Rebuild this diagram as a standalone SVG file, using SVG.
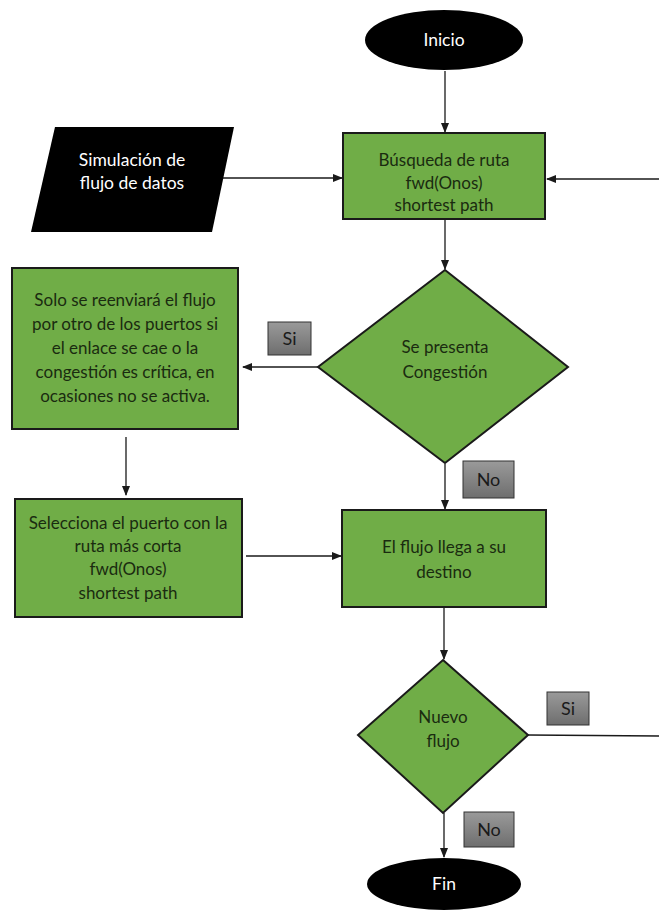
<svg xmlns="http://www.w3.org/2000/svg" width="659" height="914" viewBox="0 0 659 914">
  <style>
    .proc { fill: #70ad47; stroke: #1a1a1a; stroke-width: 2; }
    .term { fill: #000000; }
    .lbl { fill: url(#grayGrad); stroke: #333333; stroke-width: 1; }
    .t { font-family: Lato, "Open Sans", "Liberation Sans", sans-serif; font-size: 17px; fill: #1a2b10; text-anchor: middle; }
    .tw { font-family: Lato, "Open Sans", "Liberation Sans", sans-serif; font-size: 17.5px; fill: #ffffff; text-anchor: middle; }
    .tl { font-family: Lato, "Open Sans", "Liberation Sans", sans-serif; font-size: 18px; fill: #1a1a1a; text-anchor: middle; }
    .edge { stroke: #1a1a1a; stroke-width: 1.3; fill: none; }
    .arrow { marker-end: url(#head); }
  </style>
  <defs>
    <linearGradient id="grayGrad" x1="0" y1="0" x2="0" y2="1">
      <stop offset="0" stop-color="#9a9a9a"/>
      <stop offset="1" stop-color="#6e6e6e"/>
    </linearGradient>
    <marker id="head" markerWidth="10" markerHeight="8" refX="9" refY="4" orient="auto" markerUnits="userSpaceOnUse">
      <path d="M0,0 L10,4 L0,8 Z" fill="#1a1a1a"/>
    </marker>
  </defs>

  <rect width="659" height="914" fill="#ffffff"/>

  <!-- connectors -->
  <g id="connectors">
    <line class="edge arrow" x1="445" y1="71" x2="445" y2="132"/>
    <line class="edge arrow" x1="222" y1="178" x2="342" y2="178"/>
    <line class="edge arrow" x1="659" y1="179" x2="547" y2="179"/>
    <line class="edge arrow" x1="445" y1="220" x2="445" y2="269"/>
    <line class="edge arrow" x1="318" y1="367" x2="243" y2="367"/>
    <line class="edge arrow" x1="445" y1="464" x2="445" y2="509"/>
    <line class="edge arrow" x1="126" y1="437" x2="126" y2="495"/>
    <line class="edge arrow" x1="246" y1="556" x2="341" y2="556"/>
    <line class="edge arrow" x1="444" y1="608" x2="444" y2="659"/>
    <line class="edge" x1="528" y1="735" x2="659" y2="736"/>
    <line class="edge arrow" x1="444" y1="813" x2="444" y2="857"/>
  </g>

  <!-- start -->
  <g id="inicio">
    <ellipse class="term" cx="444" cy="40" rx="79" ry="30"/>
    <text class="tw" x="444" y="46">Inicio</text>
  </g>

  <!-- data input -->
  <g id="simulacion">
    <polygon class="term" points="55,127 234,127 212,232 31,232"/>
    <text class="tw" x="132" y="166">Simulación de</text>
    <text class="tw" x="132" y="189">flujo de datos</text>
  </g>

  <!-- route search -->
  <g id="busqueda">
    <rect class="proc" x="343" y="133" width="202" height="86"/>
    <text class="t" x="444" y="166">Búsqueda de ruta</text>
    <text class="t" x="444" y="189">fwd(Onos)</text>
    <text class="t" x="444" y="211">shortest path</text>
  </g>

  <!-- congestion decision -->
  <g id="congestion">
    <polygon class="proc" points="445,270 568,367 445,463 318,367"/>
    <text class="t" x="445" y="353">Se presenta</text>
    <text class="t" x="445" y="378">Congestión</text>
  </g>

  <g id="si1">
    <rect class="lbl" x="268" y="322" width="43" height="33"/>
    <text class="tl" x="289.5" y="345">Si</text>
  </g>

  <g id="no1">
    <rect class="lbl" x="463" y="461" width="51" height="37"/>
    <text class="tl" x="488.5" y="486">No</text>
  </g>

  <!-- reroute note -->
  <g id="reenvio">
    <rect class="proc" x="12" y="268" width="226" height="161"/>
    <text class="t" x="125" y="306">Solo se reenviará el flujo</text>
    <text class="t" x="125" y="330">por otro de los puertos si</text>
    <text class="t" x="125" y="354">el enlace se cae o la</text>
    <text class="t" x="125" y="378">congestión es crítica, en</text>
    <text class="t" x="125" y="402">ocasiones no se activa.</text>
  </g>

  <!-- port selection -->
  <g id="selecciona">
    <rect class="proc" x="15" y="499" width="227" height="118"/>
    <text class="t" x="128" y="529">Selecciona el puerto con la</text>
    <text class="t" x="128" y="552">ruta más corta</text>
    <text class="t" x="128" y="575">fwd(Onos)</text>
    <text class="t" x="128" y="599">shortest path</text>
  </g>

  <!-- arrival -->
  <g id="destino">
    <rect class="proc" x="342" y="510" width="204" height="97"/>
    <text class="t" x="444" y="553">El flujo llega a su</text>
    <text class="t" x="444" y="578">destino</text>
  </g>

  <!-- new flow decision -->
  <g id="nuevo">
    <polygon class="proc" points="443,660 528,735 443,813 358,735"/>
    <text class="t" x="443" y="723">Nuevo</text>
    <text class="t" x="443" y="747">flujo</text>
  </g>

  <g id="si2">
    <rect class="lbl" x="547" y="692" width="42" height="33"/>
    <text class="tl" x="568" y="715">Si</text>
  </g>

  <g id="no2">
    <rect class="lbl" x="464" y="812" width="50" height="35"/>
    <text class="tl" x="489" y="836">No</text>
  </g>

  <!-- end -->
  <g id="fin">
    <ellipse class="term" cx="444" cy="884" rx="77" ry="26"/>
    <text class="tw" x="444" y="890">Fin</text>
  </g>
</svg>
